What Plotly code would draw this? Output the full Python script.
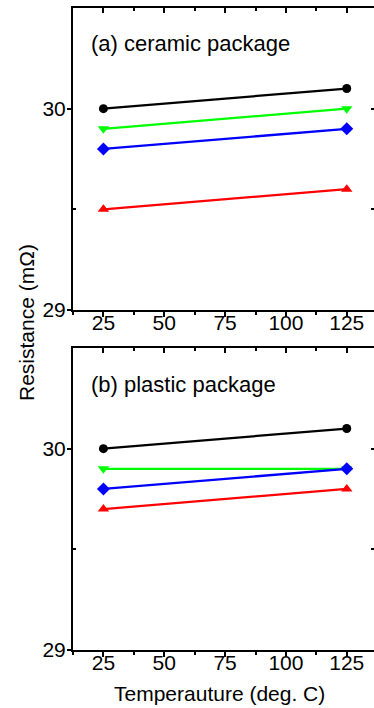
import plotly.graph_objects as go

# ---------------- data ----------------
temps = [25, 125]
series_names = ["black", "green", "blue", "red"]
ceramic_black = [30.0, 30.1]
ceramic_green = [29.9, 30.0]
ceramic_blue = [29.8, 29.9]
ceramic_red = [29.5, 29.6]
plastic_black = [30.0, 30.1]
plastic_green = [29.9, 29.9]
plastic_blue = [29.8, 29.9]
plastic_red = [29.7, 29.8]
x_tickvals = [25, 50, 75, 100, 125]
y_tickvals = [29, 30]
panel_labels = ["(a) ceramic package", "(b) plastic package"]
x_title = "Temperauture (deg. C)"
y_title = "Resistance (mΩ)"

colors = {"black": "#000000", "green": "#00ff00", "blue": "#0000ff", "red": "#ff0000"}
symbols = {"black": "circle", "green": "triangle-down", "blue": "diamond", "red": "triangle-up"}
sizes = {"black": 9, "green": 10, "blue": 10, "red": 10}

W, H = 374, 708
FONT = "Liberation Sans, Arial, sans-serif"

fig = go.Figure()

panels = [
    ("x", "y", [ceramic_black, ceramic_green, ceramic_blue, ceramic_red]),
    ("x2", "y2", [plastic_black, plastic_green, plastic_blue, plastic_red]),
]
for xa, ya, vals in panels:
    for name, v in zip(series_names, vals):
        fig.add_trace(go.Scatter(
            x=temps, y=v, xaxis=xa, yaxis=ya, mode="lines+markers",
            line=dict(color=colors[name], width=2.3),
            marker=dict(symbol=symbols[name], size=sizes[name], color=colors[name],
                        line=dict(width=0)),
            showlegend=False, hoverinfo="skip", cliponaxis=False,
        ))

# dummy traces to register overlay axes
for xa, ya in [("x3", "y"), ("x4", "y2"), ("x", "y3"), ("x2", "y4")]:
    fig.add_trace(go.Scatter(x=[], y=[], xaxis=xa, yaxis=ya, showlegend=False,
                             hoverinfo="skip"))

def px_y(top, bottom):
    return [1 - bottom / H, 1 - top / H]

dom_a = px_y(8, 310)
dom_b = px_y(348, 650)
XR = [12.5, 136.2]
YR = [29, 30.5]
tickfont = dict(family=FONT, size=21, color="black")

def xbottom(anchor):
    return dict(range=XR, anchor=anchor, showline=True, linewidth=2, linecolor="black",
                ticks="outside", ticklen=5, tickwidth=1.5, tickcolor="black",
                tickvals=x_tickvals, tickfont=tickfont, showgrid=False, zeroline=False,
                automargin=False, ticklabelstandoff=-12,
                minor=dict(ticks="outside", ticklen=3, tickwidth=1.5, tickcolor="black",
                           tickvals=[12.5, 37.5, 62.5, 87.5, 112.5], showgrid=False),
                fixedrange=True)

def xtop(overlay, anchor):
    return dict(range=XR, overlaying=overlay, anchor=anchor, side="top", showline=True,
                linewidth=2, linecolor="black", ticks="inside", ticklen=5, tickwidth=1.5,
                tickcolor="black", tickvals=x_tickvals, showticklabels=False,
                showgrid=False, zeroline=False, automargin=False,
                minor=dict(ticks="inside", ticklen=3, tickwidth=1.5, tickcolor="black",
                           tickvals=[37.5, 62.5, 87.5, 112.5], showgrid=False))

def yleft(anchor, domain):
    return dict(range=YR, domain=domain, anchor=anchor, showline=True, linewidth=2,
                linecolor="black", ticks="outside", ticklen=4, tickwidth=1.5,
                tickcolor="black", tickvals=y_tickvals, tickfont=tickfont,
                showgrid=False, zeroline=False, automargin=False, ticklabelstandoff=-3,
                minor=dict(ticks="inside", ticklen=3, tickwidth=1.5, tickcolor="black",
                           tickvals=[29.5], showgrid=False))

def yright(overlay, anchor):
    return dict(range=YR, overlaying=overlay, anchor=anchor, side="right",
                showline=False, ticks="inside", ticklen=3, tickwidth=1.5,
                tickcolor="black", tickvals=[29.5, 30], showticklabels=False,
                showgrid=False, zeroline=False, automargin=False)

fig.update_layout(
    width=W, height=H,
    margin=dict(l=73, r=0, t=0, b=0, autoexpand=False),
    paper_bgcolor="white", plot_bgcolor="white",
    font=dict(family=FONT, size=21, color="black"),
    xaxis=xbottom("y"),
    xaxis2=xbottom("y2"),
    xaxis3=xtop("x", "y"),
    xaxis4=xtop("x2", "y2"),
    yaxis=yleft("x", dom_a),
    yaxis2=yleft("x2", dom_b),
    yaxis3=yright("y", "x"),
    yaxis4=yright("y2", "x2"),
)

def ax(px):
    return (px - 73) / (W - 73)

def ay(py):
    return 1 - py / H

annotations = [
    dict(text=panel_labels[0], xref="paper", yref="paper",
         x=ax(89), y=ay(44), xanchor="left", yanchor="middle",
         showarrow=False, font=dict(family=FONT, size=22, color="black")),
    dict(text=panel_labels[1], xref="paper", yref="paper",
         x=ax(89), y=ay(385), xanchor="left", yanchor="middle",
         showarrow=False, font=dict(family=FONT, size=22, color="black")),
    dict(text=x_title, xref="paper", yref="paper",
         x=ax(219), y=ay(693), xanchor="center", yanchor="middle",
         showarrow=False, font=dict(family=FONT, size=21, color="black")),
    dict(text=y_title, xref="paper", yref="paper", textangle=-90,
         x=ax(26), y=ay(323), xanchor="center", yanchor="middle",
         showarrow=False, font=dict(family=FONT, size=21, color="black")),
]
fig.update_layout(annotations=annotations)

fig.write_html("out.html", config={"displayModeBar": False})
